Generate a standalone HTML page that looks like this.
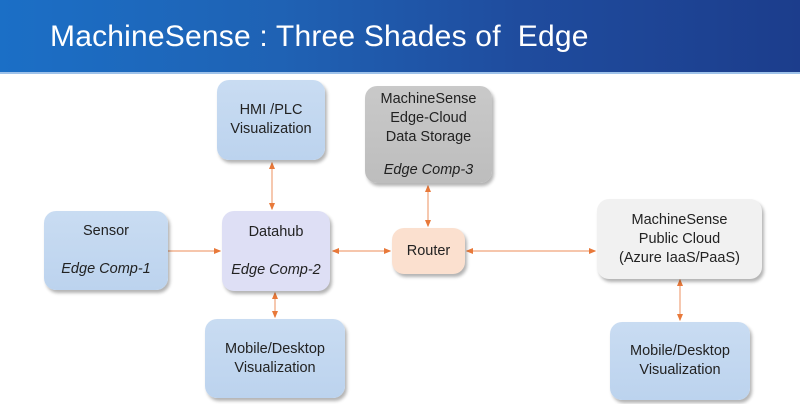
<!DOCTYPE html>
<html><head><meta charset="utf-8"><style>
*{margin:0;padding:0;box-sizing:border-box}
body{width:800px;height:404px;background:#fff;position:relative;overflow:hidden;font-family:"Liberation Sans",sans-serif}
.hdr{position:absolute;left:0;top:0;width:800px;height:74px;background:linear-gradient(90deg,#1b6fc6 0%,#1f62b4 35%,#1f4c9e 65%,#1c3d8c 100%)}
.hdr h1{position:absolute;left:50px;top:20px;font-weight:normal;color:#fff;font-size:30px;letter-spacing:0.2px;white-space:pre}
.hdr:after{content:"";position:absolute;left:0;bottom:0;width:100%;height:2px;background:#9ec2ea}
.b{position:absolute;border-radius:12px;display:flex;flex-direction:column;justify-content:center;align-items:center;text-align:center;font-size:14.5px;line-height:19px;color:#222;box-shadow:2px 3px 3px rgba(0,0,0,0.3)}
.blue{background:linear-gradient(180deg,#c9dcf2,#bcd3ee)}
i{font-style:italic}
</style></head><body>
<div class="hdr"><h1>MachineSense : Three Shades of  Edge</h1></div>
<svg width="800" height="404" style="position:absolute;left:0;top:0">
<defs><marker id="a" markerWidth="6" markerHeight="6" refX="5" refY="3" orient="auto-start-reverse"><path d="M0,0.5 L6,3 L0,5.5z" fill="#e8793a"/></marker></defs>
<g stroke="#f0a47a" stroke-width="1.2" fill="none">
<line x1="168" y1="251" x2="220" y2="251" marker-end="url(#a)"/>
<line x1="272" y1="163" x2="272" y2="209" marker-start="url(#a)" marker-end="url(#a)"/>
<line x1="275" y1="293" x2="275" y2="317" marker-start="url(#a)" marker-end="url(#a)"/>
<line x1="333" y1="251" x2="390" y2="251" marker-start="url(#a)" marker-end="url(#a)"/>
<line x1="428" y1="186" x2="428" y2="226" marker-start="url(#a)" marker-end="url(#a)"/>
<line x1="467" y1="251" x2="595" y2="251" marker-start="url(#a)" marker-end="url(#a)"/>
<line x1="680" y1="280" x2="680" y2="320" marker-start="url(#a)" marker-end="url(#a)"/>
</g></svg>
<div class="b blue" style="left:217px;top:80px;width:108px;height:80px">HMI /PLC<br>Visualization</div>
<div class="b" style="left:365px;top:86px;width:127px;height:97px;background:linear-gradient(180deg,#c9c9c9,#bdbdbd)">MachineSense<br>Edge-Cloud<br>Data Storage<br><span style="height:14px"></span><i>Edge Comp-3</i></div>
<div class="b blue" style="left:44px;top:211px;width:124px;height:79px">Sensor<br><br><i>Edge Comp-1</i></div>
<div class="b" style="left:222px;top:211px;width:108px;height:80px;background:#dedff5">Datahub<br><br><i>Edge Comp-2</i></div>
<div class="b" style="left:392px;top:228px;width:73px;height:46px;background:#fbe0cf">Router</div>
<div class="b" style="left:597px;top:199px;width:165px;height:80px;background:#f1f1f1">MachineSense<br>Public Cloud<br>(Azure IaaS/PaaS)</div>
<div class="b blue" style="left:205px;top:319px;width:140px;height:79px">Mobile/Desktop<br>Visualization</div>
<div class="b blue" style="left:610px;top:322px;width:140px;height:78px">Mobile/Desktop<br>Visualization</div>
</body></html>
